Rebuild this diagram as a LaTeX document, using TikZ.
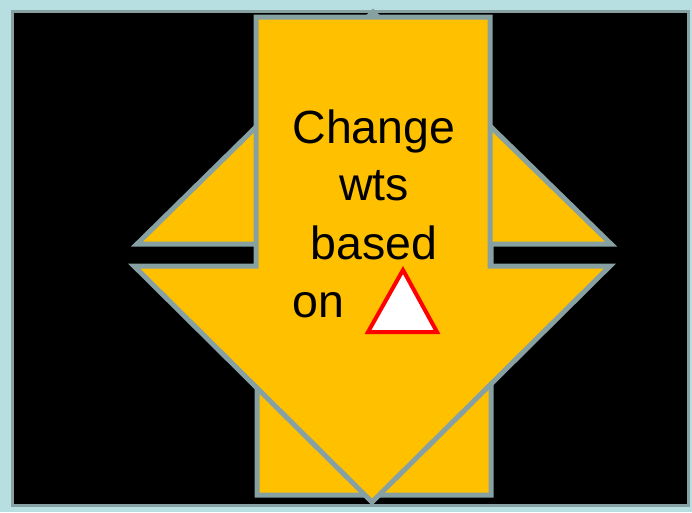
\documentclass[tikz,border=0pt]{standalone}
\usepackage{fontspec}
\setmainfont{Liberation Sans}
\usepackage{xcolor}
\usepackage{tikz}
\usetikzlibrary{arrows.meta,positioning,calc}
\definecolor{frameblue}{HTML}{B7DEE0}
\definecolor{edgegray}{HTML}{87A0A2}
\definecolor{arrowgold}{HTML}{FFC000}

\begin{document}
\begin{tikzpicture}[
  x=1pt,y=-1pt,
  blk/.style={draw=edgegray,fill=arrowgold,line width=5pt},
  t/.style={inner sep=0pt,anchor=base,font=\fontsize{46.5}{57}\selectfont},
  delta/.style={draw=red,fill=white,line width=4pt}
]
\fill[frameblue] (0,0) rectangle (692,512);
\useasboundingbox (0,0) rectangle (692,512);
\draw[edgegray,fill=black,line width=3pt] (12,11) rectangle (688,505);
% up arrow (behind)
\draw[blk] (373,12) -- (611,244) -- (491,244) -- (491,495) -- (257,495)
  -- (257,244) -- (137,244) -- cycle;
% down arrow (front)
\draw[blk] (256,17) -- (490,17) -- (490,266) -- (610,266) -- (372,502)
  -- (134,266) -- (256,266) -- cycle;
\foreach \w/\y [count=\i] in {Change/143,wts/200,based/259}
  \node[t] (l\i) at (374,\y) {\w};
\node[t,anchor=base west] (on) at (292,317) {on};
\draw[delta] (403,270) -- (437,332) -- (368,332) -- cycle;
\end{tikzpicture}
\end{document}
